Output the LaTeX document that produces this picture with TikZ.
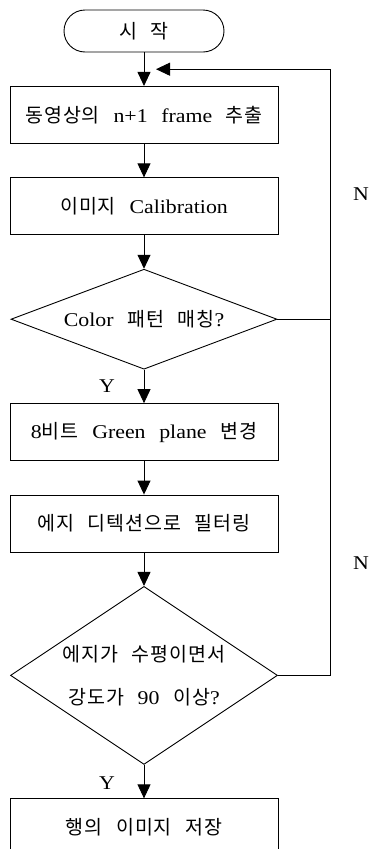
\documentclass[tikz,border=0pt]{standalone}
\usepackage{fontspec}
\setmainfont{Liberation Serif}[FakeStretch=1.12, WordSpace=2.5]
\newfontfamily\krfont{Noto Sans CJK KR}[LetterSpace=5]
\newcommand{\hangul}[1]{{\krfont #1}}
\usetikzlibrary{shapes.geometric, arrows.meta, positioning, calc}
\newcommand{\chartfont}{\fontsize{19.5pt}{24pt}\selectfont}
\tikzstyle{terminal} = [
    rectangle, rounded corners=21pt, minimum width=160pt, minimum height=42pt,
    text centered, draw=black, line width=0.9pt, font=\chartfont
]
\tikzstyle{process} = [
    rectangle, minimum width=268pt, minimum height=57pt,
    text centered, draw=black, line width=0.9pt, font=\chartfont
]
\tikzstyle{decision} = [
    diamond, aspect=2.65, inner sep=0pt, minimum width=266pt, minimum height=100pt,
    align=center, draw=black, line width=0.9pt, font=\chartfont
]
\tikzstyle{yn} = [inner sep=0pt, font=\chartfont]
\tikzstyle{arrow} = [-{Triangle[length=14pt, width=13pt]}, line width=0.9pt, draw=black]
\tikzstyle{link} = [line width=0.9pt, draw=black]

\begin{document}
\begin{tikzpicture}[node distance=33.5pt]
        \useasboundingbox (0,0) rectangle (369pt,-849pt);
        \clip (0,0) rectangle (369pt,-849pt);

        \node[terminal] (start) at (144pt,-31pt) {\hangul{시} \hangul{작}};
        \node[process, below=of start] (frame)
            {\hangul{동영상의} n+1 frame \hangul{추출}};
        \node[process, below=of frame] (calib)
            {\hangul{이미지} Calibration};
        \node[decision, below=of calib] (match)
            {Color \hangul{패턴} \hangul{매칭}?};
        \node[process, below=of match] (green)
            {8\hangul{비트} Green plane \hangul{변경}};
        \node[process, below=of green] (edge)
            {\hangul{에지} \hangul{디텍션으로} \hangul{필터링}};
        \node[decision, aspect=1.5, minimum width=267pt, minimum height=178pt,
              font=\fontsize{19.5pt}{43pt}\selectfont, below=of edge] (level)
            {\hangul{에지가} \hangul{수평이면서}\\\hangul{강도가} 90 \hangul{이상}?};
        \node[process, below=of level] (save)
            {\hangul{행의} \hangul{이미지} \hangul{저장}};

        \draw[arrow] (start) -- (frame);
        \draw[arrow] (frame) -- (calib);
        \draw[arrow] (calib) -- (match);
        \draw[arrow] (match) -- (green);
        \draw[arrow] (green) -- (edge);
        \draw[arrow] (edge) -- (level);
        \draw[arrow] (level) -- (save);

        % feedback loop (N)
        \coordinate (rail) at (330pt,0);
        \coordinate (loopin) at ($(start.south)!0.5!(frame.north)+(12pt,0)$);
        \draw[link] (match.east) -- (match.east -| rail);
        \draw[arrow] (level.east) -- (level.east -| rail) -- (rail |- loopin) -- (loopin);

        % Y / N labels
        \node[yn] (n1) at (361pt,-194pt) {N};
        \node[yn] (n2) at (361pt,-563pt) {N};
        \node[yn, anchor=east] (y1) at ($(match.south |- 0,-386pt)+(-29pt,0)$) {Y};
        \node[yn, anchor=east] (y2) at ($(level.south |- 0,-783pt)+(-29pt,0)$) {Y};
    \end{tikzpicture}
\end{document}
